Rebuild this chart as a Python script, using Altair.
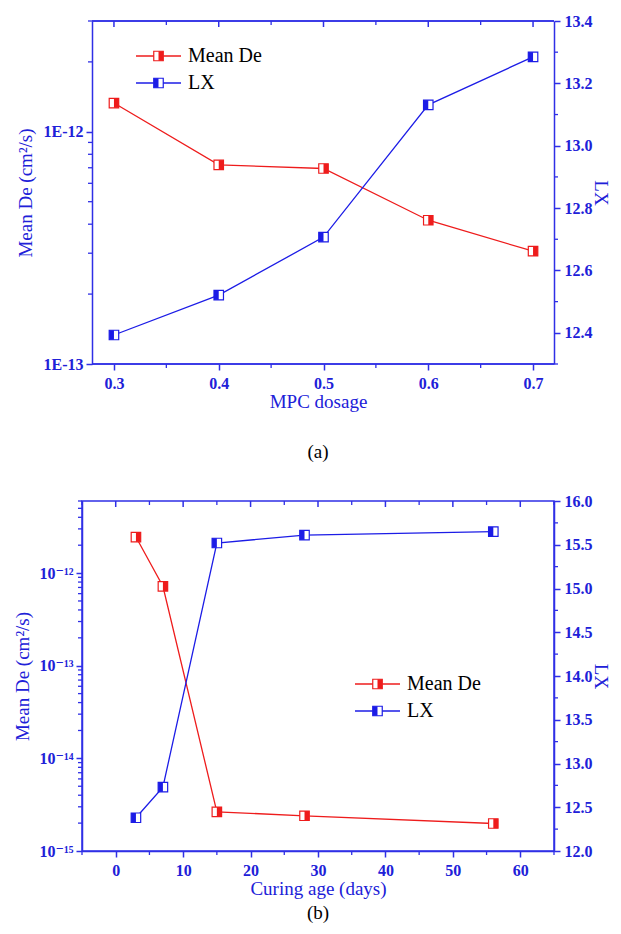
import altair as alt
import pandas as pd

# ---------------- data ----------------
dosage = [0.3, 0.4, 0.5, 0.6, 0.7]
mean_de_a = [1.33e-12, 7.2e-13, 6.95e-13, 4.16e-13, 3.06e-13]
lx_a = [12.393, 12.521, 12.707, 13.131, 13.285]

curing_days = [3, 7, 15, 28, 56]
mean_de_b = [2.45e-12, 7.2e-13, 2.65e-15, 2.4e-15, 1.98e-15]
lx_b = [12.38, 12.73, 15.52, 15.61, 15.65]

series_names = ["Mean De", "LX"]
panel_labels = ["(a)", "(b)"]
x_titles = ["MPC dosage", "Curing age (days)"]
y_left_title = "Mean De (cm²/s)"
y_right_title = "LX"

# ---------------- tick values ----------------
a_x_major = [0.3, 0.4, 0.5, 0.6, 0.7]
a_x_minor = [0.35, 0.45, 0.55, 0.65]
a_left_major = [1e-13, 1e-12]
a_left_labels = ["1E-13", "1E-12"]
a_left_minor = [2e-13, 3e-13, 4e-13, 5e-13, 6e-13, 7e-13, 8e-13, 9e-13, 2e-12, 3e-12]
a_right_major = [12.4, 12.6, 12.8, 13.0, 13.2, 13.4]
a_right_minor = [12.3, 12.5, 12.7, 12.9, 13.1, 13.3]

b_x_major = [0, 10, 20, 30, 40, 50, 60]
b_x_minor = [-5, 5, 15, 25, 35, 45, 55, 65]
b_left_major = [1e-15, 1e-14, 1e-13, 1e-12]
b_left_labels = ["10⁻¹⁵", "10⁻¹⁴", "10⁻¹³", "10⁻¹²"]
b_left_minor = [2e-15, 3e-15, 4e-15, 5e-15, 6e-15, 7e-15, 8e-15, 9e-15,
                2e-14, 3e-14, 4e-14, 5e-14, 6e-14, 7e-14, 8e-14, 9e-14,
                2e-13, 3e-13, 4e-13, 5e-13, 6e-13, 7e-13, 8e-13, 9e-13,
                2e-12, 3e-12, 4e-12, 5e-12, 6e-12]
b_right_major = [12.0, 12.5, 13.0, 13.5, 14.0, 14.5, 15.0, 15.5, 16.0]
b_right_minor = [12.25, 12.75, 13.25, 13.75, 14.25, 14.75, 15.25, 15.75]

# ---------------- style ----------------
FONT = "Liberation Serif, Times New Roman, DejaVu Serif, serif"
AXIS = "#2f2fe6"
TXT = "#2020d8"
RED = "#ee1c1c"
BLUE = "#1c1ce6"
MS = 90
RIGHT_HALF = "M0,-1L1,-1L1,1L0,1Z"
LEFT_HALF = "M-1,-1L0,-1L0,1L-1,1Z"


def log_label_expr(vals, labels):
    expr = "''"
    for v, lab in zip(vals, labels):
        expr = f"abs(datum.value / {v!r} - 1) < 1e-6 ? '{lab}' : ({expr})"
    return expr


def series_layers(df, X, Y, color, half, minor_df, x0, x1):
    base = alt.Chart(df)
    return alt.layer(
        base.mark_line(color=color, strokeWidth=1.3).encode(x=X, y=Y),
        base.mark_square(size=MS, fill="white", stroke=color, strokeWidth=1.2,
                         opacity=1).encode(x=X, y=Y),
        base.mark_point(shape=half, size=MS, filled=True, fill=color,
                        strokeWidth=0, opacity=1).encode(x=X, y=Y),
        alt.Chart(minor_df).mark_rule(color=AXIS, strokeWidth=1.3).encode(
            y=Y, x=alt.value(x0), x2=alt.value(x1)),
    )


def legend_layers(x0, y0, dy):
    colors = [RED, BLUE]
    halves = [RIGHT_HALF, LEFT_HALF]
    out = []
    for i, (name, color, half) in enumerate(zip(series_names, colors, halves)):
        y = y0 + i * dy
        c = alt.Chart(pd.DataFrame({"name": [name]}))
        out += [
            c.mark_rule(color=color, strokeWidth=1.3).encode(
                x=alt.value(x0), x2=alt.value(x0 + 45), y=alt.value(y)),
            c.mark_square(size=MS, fill="white", stroke=color, strokeWidth=1.2,
                          opacity=1).encode(x=alt.value(x0 + 22.5), y=alt.value(y)),
            c.mark_point(shape=half, size=MS, filled=True, fill=color,
                         strokeWidth=0, opacity=1).encode(
                x=alt.value(x0 + 22.5), y=alt.value(y)),
            c.mark_text(align="left", baseline="middle", font=FONT, fontSize=20,
                        color="black").encode(
                x=alt.value(x0 + 52), y=alt.value(y), text="name:N"),
        ]
    return out


def panel(xs, left_vals, right_vals, x_dom, left_dom, right_dom,
          x_major, x_minor, left_major, left_labels, left_minor,
          right_major, right_minor, w, h, x_title, label, x_fmt,
          left_title_pad, right_title_pad, title_offset, leg_x, leg_y,
          inset=0):
    # inset > 0: the visible frame starts `inset` px right of the plot origin
    df = pd.DataFrame({"x": xs, "left": left_vals, "right": right_vals})
    X = alt.X("x:Q", scale=alt.Scale(domain=x_dom, nice=False, zero=False),
              axis=alt.Axis(values=x_major, format=x_fmt, title=x_title,
                            tickSize=6, labelPadding=5, titlePadding=1,
                            domain=(inset == 0)))
    YL = alt.Y("left:Q", scale=alt.Scale(type="log", domain=left_dom, nice=False),
               axis=alt.Axis(orient="left", values=left_major,
                             labelExpr=log_label_expr(left_major, left_labels),
                             title=y_left_title, tickSize=6, labelPadding=3,
                             titlePadding=left_title_pad, offset=-inset))
    YR = alt.Y("right:Q", scale=alt.Scale(domain=right_dom, nice=False, zero=False),
               axis=alt.Axis(orient="right", values=right_major, format=".1f",
                             title=y_right_title, tickSize=6, labelPadding=4,
                             titlePadding=right_title_pad))
    left = series_layers(df, X, YL, RED, RIGHT_HALF,
                         pd.DataFrame({"left": left_minor}), inset, inset - 4)
    right = series_layers(df, X, YR, BLUE, LEFT_HALF,
                          pd.DataFrame({"right": right_minor}), w, w + 4)
    major_df = pd.DataFrame({"x": x_major})
    minor_df = pd.DataFrame({"x": x_minor})
    ticks = [
        alt.Chart(major_df).mark_rule(color=AXIS, strokeWidth=1.5).encode(
            x=X, y=alt.value(0), y2=alt.value(6)),
        alt.Chart(minor_df).mark_rule(color=AXIS, strokeWidth=1.3).encode(
            x=X, y=alt.value(0), y2=alt.value(4)),
        alt.Chart(minor_df).mark_rule(color=AXIS, strokeWidth=1.3).encode(
            x=X, y=alt.value(h), y2=alt.value(h + 4)),
    ]
    extra = {}
    if inset:
        frame = alt.Chart(pd.DataFrame({"edge": ["top", "bottom"]}))
        ticks += [
            frame.mark_rule(color=AXIS, strokeWidth=1.5).encode(
                x=alt.value(inset), x2=alt.value(w), y=alt.value(0)),
            frame.mark_rule(color=AXIS, strokeWidth=1.5).encode(
                x=alt.value(inset), x2=alt.value(w), y=alt.value(h)),
        ]
        extra["view"] = alt.ViewBackground(strokeOpacity=0)
    return alt.layer(left, right, *ticks, *legend_layers(leg_x, leg_y, 27)).resolve_scale(
        y="independent"
    ).properties(
        width=w, height=h,
        title=alt.TitleParams(label, orient="bottom", anchor="middle", font=FONT,
                              fontSize=19, fontWeight="normal", color="black",
                              offset=title_offset),
        **extra,
    )


top = panel(dosage, mean_de_a, lx_a, [0.2695, 0.72], [1e-13, 3e-12], [12.3, 13.4],
            a_x_major, a_x_minor, a_left_major, a_left_labels, a_left_minor,
            a_right_major, a_right_minor, 472, 343, x_titles[0], panel_labels[0],
            ".1f", 8, -2, 32, 54, 35, inset=10)

bottom = panel(curing_days, mean_de_b, lx_b, [-5, 65], [1e-15, 6e-12], [12.0, 16.0],
               b_x_major, b_x_minor, b_left_major, b_left_labels, b_left_minor,
               b_right_major, b_right_minor, 472, 350, x_titles[1], panel_labels[1],
               "d", 6, -2, 6, 273, 183)

chart = alt.vconcat(top, bottom, spacing=30).properties(
    padding={"left": 5, "top": 5, "right": 0, "bottom": 0}
).configure_view(
    stroke=AXIS, strokeWidth=1.5
).configure_axis(
    domainColor=AXIS, domainWidth=1.5, tickColor=AXIS, tickWidth=1.5,
    labelColor=TXT, labelFont=FONT, labelFontSize=16, labelFontWeight="bold",
    titleColor=TXT, titleFont=FONT, titleFontSize=19, titleFontWeight="normal",
    grid=False, labelOverlap=False,
)

chart.save("out.html", embed_options={"renderer": "svg", "actions": False})
